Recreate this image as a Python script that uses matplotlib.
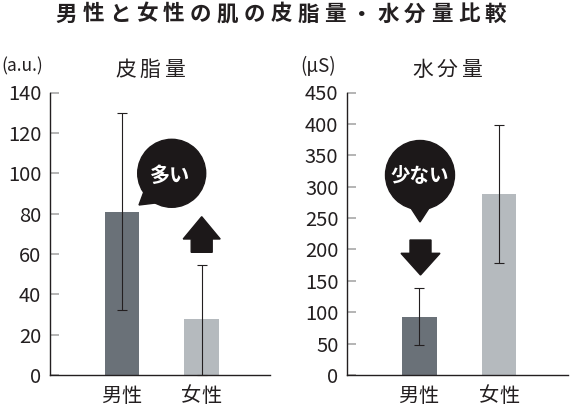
import matplotlib
matplotlib.use('Agg')
import matplotlib.pyplot as plt
from matplotlib.patches import Circle, Polygon

plt.rcParams['font.family'] = ['Noto Sans CJK JP', 'DejaVu Sans']

# data
groups = ['男性', '女性']
sebum = [81, 28]
sebum_err_low = [49, 28]
sebum_err_high = [49, 26.5]
moisture = [93, 289]
moisture_err = [45, 110]
sebum_ticks = [0, 20, 40, 60, 80, 100, 120, 140]
moisture_ticks = [0, 50, 100, 150, 200, 250, 300, 350, 400, 450]

bar_colors = ['#6a7178', '#b5babe']
ink = '#231f20'
W, H = 570, 407

fig = plt.figure(figsize=(W / 100, H / 100), dpi=100)

# overlay in pixel coordinates for titles and call-outs
ov = fig.add_axes([0, 0, 1, 1], zorder=5)
ov.set_xlim(0, W)
ov.set_ylim(H, 0)
ov.axis('off')


def spaced(cx, cy, s, pitch, **kw):
    n = len(s)
    for i, ch in enumerate(s):
        ov.text(cx + (i - (n - 1) / 2) * pitch, cy, ch, ha='center', va='center', color=ink, **kw)


def panel(rect, vals, err, ylim, ticks):
    ax = fig.add_axes(rect)
    x = range(len(groups))
    ax.bar(x, vals, width=0.43, color=bar_colors, zorder=1)
    ax.errorbar(x, vals, yerr=err, fmt='none', ecolor=ink, elinewidth=0.8,
                capsize=3.3, capthick=0.8, zorder=2, clip_on=False)
    ax.set_xlim(-0.91, 1.86)
    ax.set_ylim(*ylim)
    ax.set_yticks(ticks)
    ax.set_xticks([])
    for side in ['top', 'right']:
        ax.spines[side].set_visible(False)
    for side in ['left', 'bottom']:
        ax.spines[side].set_color(ink)
        ax.spines[side].set_linewidth(1.0)
    ax.tick_params(axis='y', direction='in', length=6.5, width=1.2, color='#a8a8a8',
                   labelsize=14.5, labelcolor=ink, pad=6)
    return ax


ax1 = panel([49.5 / W, 32 / H, 220.5 / W, 282.5 / H], sebum,
            [sebum_err_low, sebum_err_high], (0, 140), sebum_ticks)
ax2 = panel([346.7 / W, 32 / H, 221.3 / W, 282.5 / H], moisture,
            moisture_err, (0, 450), moisture_ticks)

# titles and labels
spaced(281, 14, '男性と女性の肌の皮脂量・水分量比較', 26.8, fontsize=15.5, fontweight='bold')
spaced(150, 70, '皮脂量', 24.5, fontsize=15)
spaced(447, 70, '水分量', 24.5, fontsize=15)
ov.text(1, 66, '(a.u.)', ha='left', va='center', fontsize=12.5, color=ink)
ov.text(318, 66, '(μS)', ha='center', va='center', fontsize=13.5, color=ink)
spaced(121, 396, groups[0], 20, fontsize=14.5)
spaced(201, 396, groups[1], 20, fontsize=14.5)
spaced(418.5, 396, groups[0], 20, fontsize=14.5)
spaced(499, 396, groups[1], 20, fontsize=14.5)

# call-out bubbles
blk = '#1c1819'
ov.add_patch(Circle((171.7, 173.3), 34, color=blk))
ov.add_patch(Polygon([(139, 205), (146, 186), (164, 202)], color=blk))
ov.text(170, 175, '多い', ha='center', va='center', color='white', fontsize=14.5, fontweight='bold')

ov.add_patch(Circle((420, 175), 34.5, color=blk))
ov.add_patch(Polygon([(407, 202), (433, 202), (420, 222)], color=blk))
ov.text(420, 176.5, '少ない', ha='center', va='center', color='white', fontsize=14, fontweight='bold')

# arrows
ov.add_patch(Polygon([(201.7, 216.7), (220.2, 239), (212.2, 239), (212.2, 252.3),
                      (191.2, 252.3), (191.2, 239), (183.2, 239)], color=blk))
ov.add_patch(Polygon([(420.5, 275), (440, 253.3), (431, 253.3), (431, 240),
                      (410, 240), (410, 253.3), (401, 253.3)], color=blk))

fig.savefig('out.png', dpi=100)
